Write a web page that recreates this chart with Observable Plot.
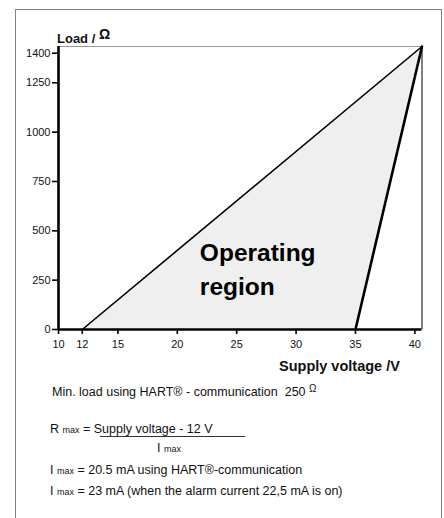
<!DOCTYPE html>
<html>
<head>
<meta charset="utf-8">
<script src="https://cdn.jsdelivr.net/npm/d3@7"></script>
<script src="https://cdn.jsdelivr.net/npm/@observablehq/plot@0.6"></script>
<style>
  html, body { margin: 0; padding: 0; background: #fff; }
  #wrap { position: relative; width: 444px; height: 518px; overflow: hidden; font-family: "Liberation Sans", Arial, sans-serif; color: #111; }
  #frame { position: absolute; left: 15px; top: 9px; width: 425px; height: 600px; border: 1px solid #808080; }
  #chart { position: absolute; left: 0; top: 0; }
  .t { position: absolute; white-space: nowrap; line-height: 1; }
  .b { font-weight: bold; }
  .n { font-size: 12.5px; }
  .s { font-size: 9px; }
</style>
</head>
<body>
<div id="wrap">
  <div id="frame"></div>
  <div id="chart"></div>
  <div class="t b" style="left:57px; top:31px; font-size:13px;">Load / <span style="position:relative; top:-4px; font-size:14px;">Ω</span></div>
  <div class="t b" style="left:279px; top:359px; font-size:14.5px;">Supply voltage /V</div>
  <div class="t n" style="left:52px; top:386px;">Min. load using HART® - communication&nbsp; 250 <span style="font-size:10px; position:relative; top:-4px;">Ω</span></div>
  <div class="t n" style="left:50px; top:423px;">R <span class="s">max</span> = Supply voltage - 12 V</div>
  <div style="position:absolute; left:100px; top:436px; width:145px; height:1px; background:#333;"></div>
  <div class="t n" style="left:157px; top:442px;">I <span class="s">max</span></div>
  <div class="t n" style="left:50px; top:464px;">I <span class="s">max</span> = 20.5 mA using HART®-communication</div>
  <div class="t n" style="left:50px; top:485px;">I <span class="s">max</span> = 23 mA (when the alarm current 22,5 mA is on)</div>
</div>
<script>
// ---- data ----
const xTicks = [10, 12, 15, 20, 25, 30, 35, 40];
const yTicks = [0, 250, 500, 750, 1000, 1250, 1400];
const xDomain = [10, 40.6];
const yDomain = [0, 1434];
// operating region polygon (supply voltage V, load Ω)
const regionV = [12, 40.6, 35];
const regionR = [0, 1434, 0];
// boundary lines
const hartV = [12, 40.6];
const hartR = [0, 1434];
const alarmV = [35, 40.6];
const alarmR = [0, 1434];
const regionLabel = "Operating\nregion";
const labelV = [21.9];
const labelR = [318];

const toPts = (xs, ys) => xs.map((x, i) => ({x, y: ys[i]}));
const region = toPts(regionV, regionR);
const hart = toPts(hartV, hartR);
const alarm = toPts(alarmV, alarmR);
const label = toPts(labelV, labelR);

const chart = Plot.plot({
  width: 444,
  height: 380,
  marginLeft: 58,
  marginRight: 22.5,
  marginTop: 46,
  marginBottom: 51,
  style: { fontFamily: "Liberation Sans, Arial, sans-serif", background: "transparent", color: "#111" },
  x: { domain: xDomain },
  y: { domain: yDomain },
  marks: [
    Plot.line(region, { x: "x", y: "y", fill: "#efefef", stroke: "none" }),
    Plot.ruleY([yDomain[1]], { stroke: "#999", strokeWidth: 1 }),
    Plot.ruleX([xDomain[1]], { stroke: "#000", strokeWidth: 1 }),
    Plot.line(hart, { x: "x", y: "y", stroke: "#000", strokeWidth: 1.6 }),
    Plot.line(alarm, { x: "x", y: "y", stroke: "#000", strokeWidth: 2.6 }),
    Plot.text(label, { x: "x", y: "y", text: () => regionLabel, textAnchor: "start", lineAnchor: "middle", lineHeight: 1.4, fontSize: 24.5, fontWeight: "bold", fill: "#000" }),
    Plot.axisY({ ticks: yTicks, tickFormat: d => String(d), tickSize: 6, tickPadding: 2, fontSize: 11, label: null, strokeWidth: 1.6, stroke: "#000" }),
    Plot.axisX({ ticks: xTicks, tickFormat: d => String(d), tickSize: 5, tickPadding: 6, fontSize: 11, label: null, strokeWidth: 1.6, stroke: "#000" }),
    Plot.ruleX([xDomain[0]], { stroke: "#000", strokeWidth: 2.6 }),
    Plot.ruleY([yDomain[0]], { stroke: "#000", strokeWidth: 2.6 })
  ]
});
document.getElementById("chart").appendChild(chart);
</script>
</body>
</html>
